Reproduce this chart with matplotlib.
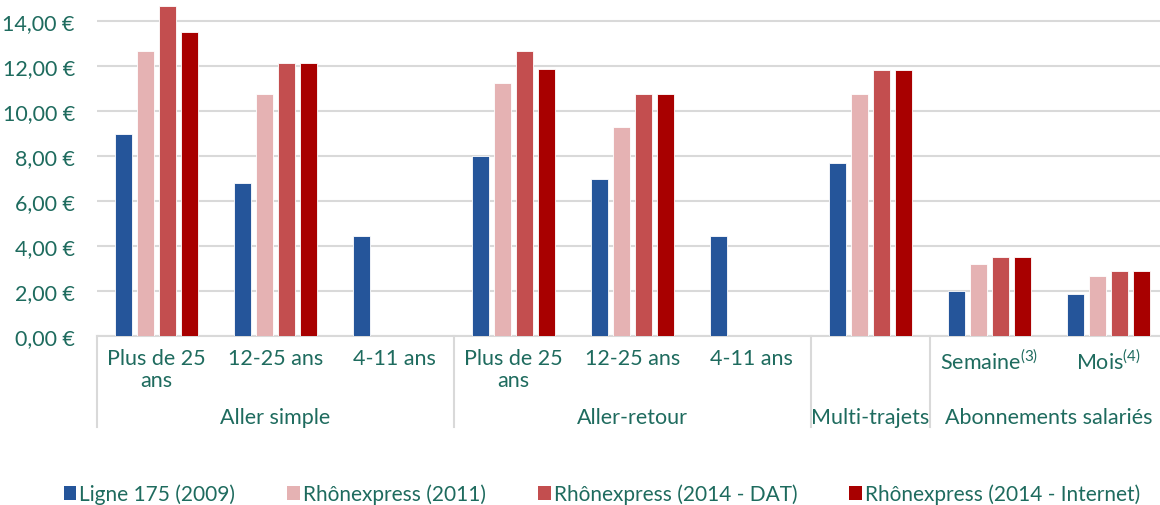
import matplotlib
matplotlib.use("Agg")
import matplotlib.pyplot as plt
import matplotlib.transforms as mtransforms
from matplotlib.patches import Patch
import numpy as np

plt.rcParams['font.family'] = ['Lato', 'DejaVu Sans']
plt.rcParams['mathtext.fontset'] = 'custom'
plt.rcParams['mathtext.rm'] = 'Lato'

subcats = ["Plus de 25\nans", "12-25 ans", "4-11 ans",
           "Plus de 25\nans", "12-25 ans", "4-11 ans",
           "", "Semaine$^{\\mathrm{(3)}}$", "Mois$^{\\mathrm{(4)}}$"]
groups = ["Aller simple", "Aller-retour", "Multi-trajets", "Abonnements salariés"]
group_sizes = [3, 3, 1, 2]

series_names = ["Ligne 175 (2009)", "Rhônexpress (2011)",
                "Rhônexpress (2014 - DAT)", "Rhônexpress (2014 - Internet)"]
ligne175 = [9.00, 6.80, 4.45, 8.00, 7.00, 4.45, 7.70, 2.00, 1.85]
rx2011 = [12.70, 10.75, np.nan, 11.25, 9.30, np.nan, 10.75, 3.20, 2.65]
rx2014_dat = [14.70, 12.15, np.nan, 12.70, 10.75, np.nan, 11.85, 3.50, 2.90]
rx2014_int = [13.55, 12.15, np.nan, 11.90, 10.75, np.nan, 11.85, 3.50, 2.90]
yticks = [0, 2, 4, 6, 8, 10, 12, 14]

colors = ["#25559a", "#e5b2b3", "#c34e4f", "#a80000"]
txt = "#1e6b5e"
grid_c = "#d9d9d9"

fig = plt.figure(figsize=(11.6, 5.06), dpi=100)
ax = fig.add_axes([97/1160, 1-337/506, 1071/1160, 337/506])

x = np.arange(len(subcats))
step = 0.184
width = 0.145
data = [ligne175, rx2011, rx2014_dat, rx2014_int]
for i, (vals, c, n) in enumerate(zip(data, colors, series_names)):
    ax.bar(x + (i - 1.5) * step, vals, width=width, color=c, label=n,
           edgecolor="white", linewidth=0.6, zorder=3)

ax.set_xlim(-0.5, len(subcats) - 0.5)
ax.set_ylim(0, 15)
ax.set_yticks(yticks)
ax.set_yticklabels([f"{v:.2f}".replace(".", ",") + " €" for v in yticks])
ax.tick_params(axis='y', length=0, labelsize=15.5, labelcolor=txt, pad=16)
ax.set_xticks([])
ax.grid(axis='y', color=grid_c, linewidth=1.5, zorder=0)
for s in ["top", "right", "left"]:
    ax.spines[s].set_visible(False)
ax.spines["bottom"].set_color(grid_c)
ax.spines["bottom"].set_linewidth(1.5)

trans = mtransforms.blended_transform_factory(ax.transData, fig.transFigure)
def fy(p):
    return 1 - p / 506

for i, lab in enumerate(subcats):
    if lab:
        ax.text(i, fy(349), lab, transform=trans, ha='center', va='top',
                fontsize=15.5, color=txt, linespacing=1.15)

start = -0.5
bounds = [start]
for g, n in zip(groups, group_sizes):
    end = start + n
    ax.text((start + end) / 2, fy(424), g, transform=trans, ha='center',
            va='baseline', fontsize=15.5, color=txt)
    bounds.append(end)
    start = end

for b in bounds[:-1]:
    ax.plot([b, b], [fy(337), fy(428)], transform=trans, color=grid_c,
            linewidth=1.5, clip_on=False)

handles = [Patch(facecolor=c, edgecolor='none') for c in colors]
fig.legend(handles, series_names, loc='center', bbox_to_anchor=(0.519, fy(495)),
           ncol=4, frameon=False, fontsize=15, labelcolor=txt,
           handlelength=0.6, handleheight=0.6, handletextpad=0.15,
           columnspacing=2.5)

fig.savefig("out.png", dpi=100)
